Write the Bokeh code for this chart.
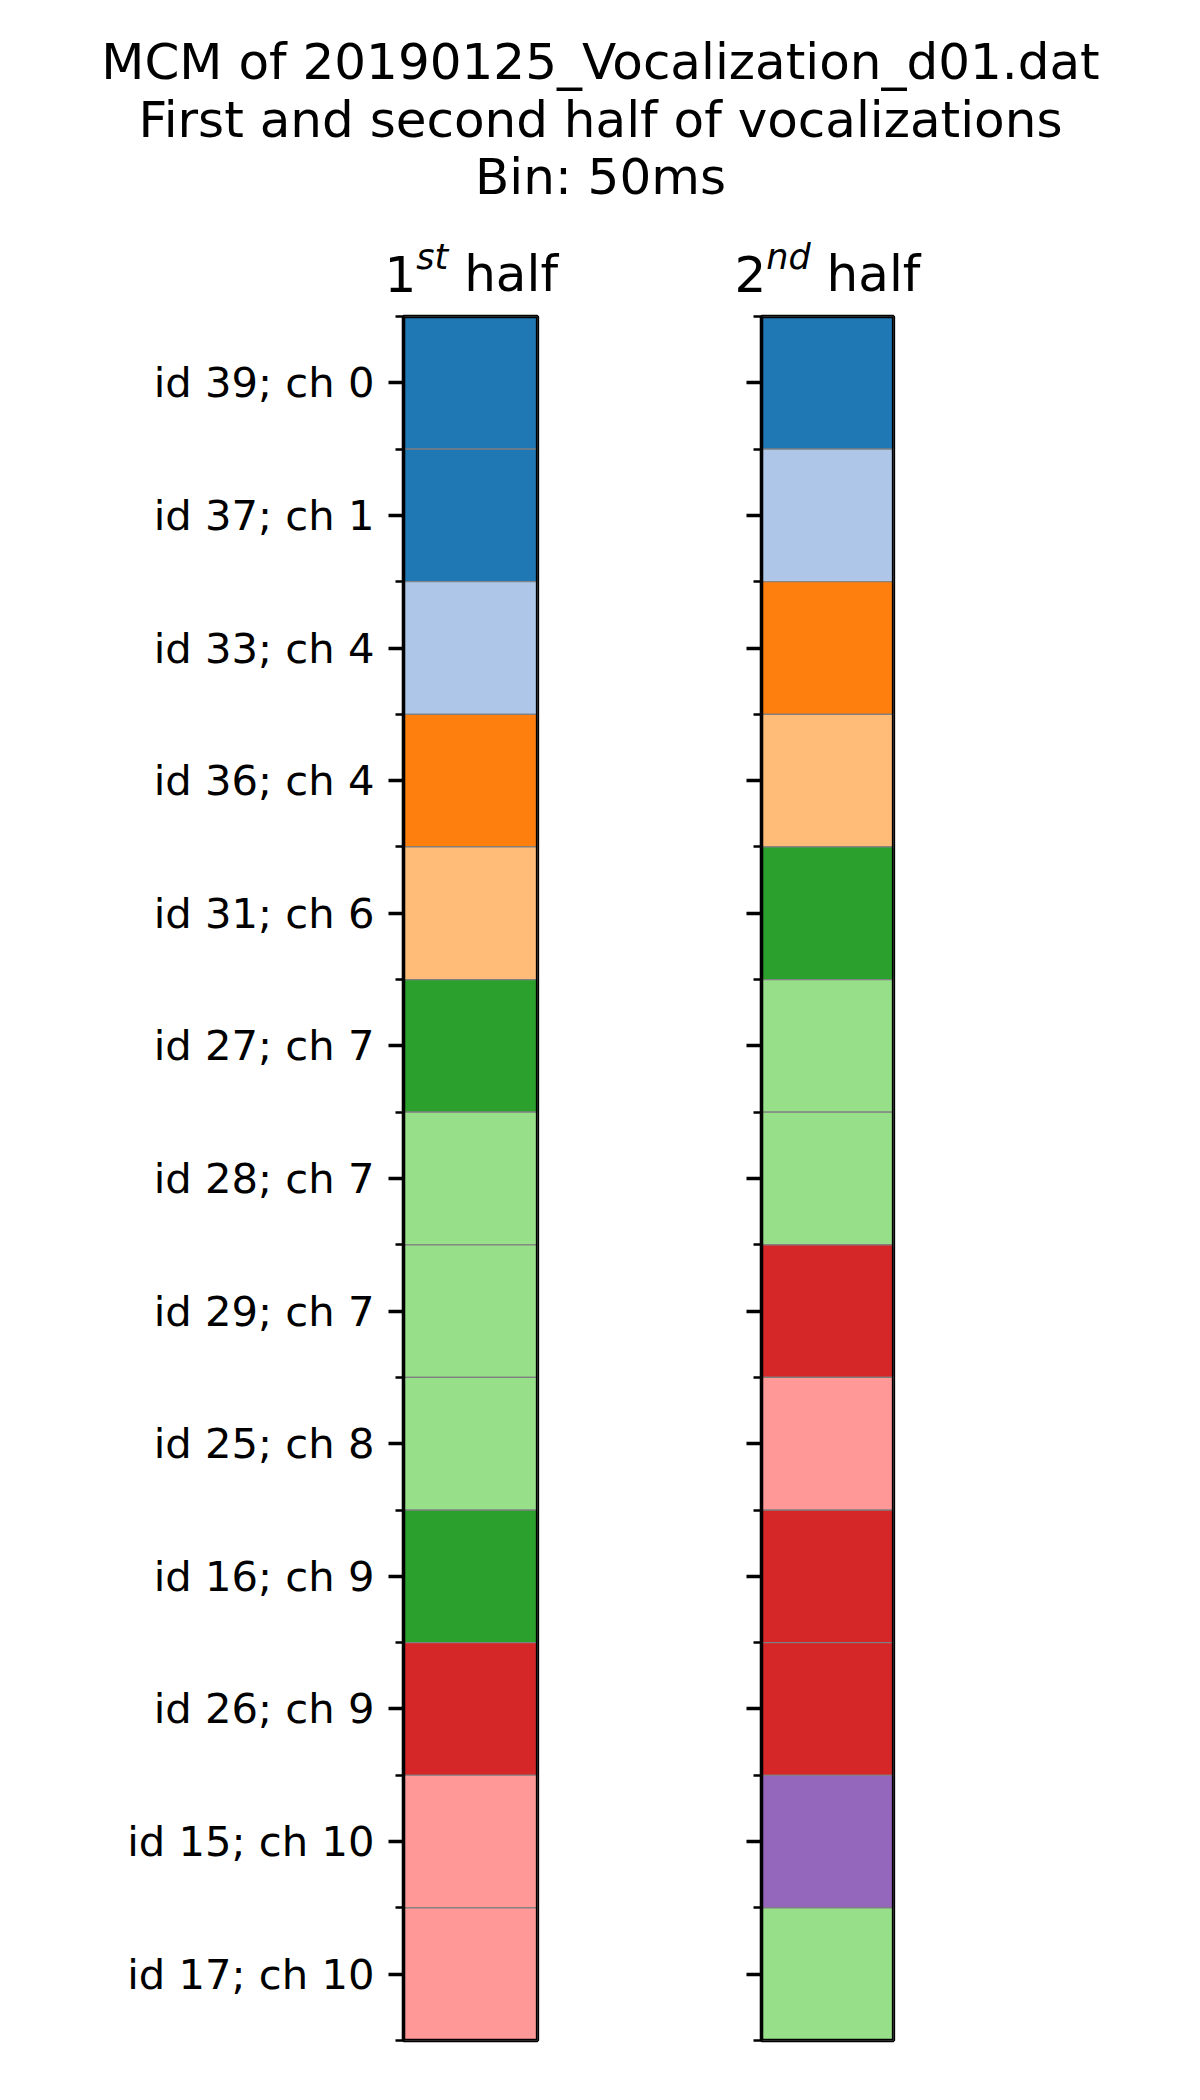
from bokeh.plotting import figure
from bokeh.layouts import column, row
from bokeh.models import Range1d, FixedTicker, Label, ColumnDataSource, BoxAnnotation
from bokeh.embed import file_html
from bokeh.resources import INLINE

# ---------------- data ----------------
unit_labels = ["id 39; ch 0", "id 37; ch 1", "id 33; ch 4", "id 36; ch 4",
               "id 31; ch 6", "id 27; ch 7", "id 28; ch 7", "id 29; ch 7",
               "id 25; ch 8", "id 16; ch 9", "id 26; ch 9", "id 15; ch 10",
               "id 17; ch 10"]
clusters_first = [0, 0, 1, 2, 3, 4, 5, 5, 5, 4, 6, 7, 7]
clusters_second = [0, 1, 2, 3, 4, 5, 5, 6, 7, 6, 6, 8, 5]
tab20 = ["#1f77b4", "#aec7e8", "#ff7f0e", "#ffbb78", "#2ca02c", "#98df8a",
         "#d62728", "#ff9896", "#9467bd", "#c5b0d5", "#8c564b", "#c49c94",
         "#e377c2", "#f7b6d2", "#7f7f7f", "#c7c7c7", "#bcbd22", "#dbdb8d",
         "#17becf", "#9edae5"]
title_lines = ["MCM of 20190125_Vocalization_d01.dat",
               "First and second half of vocalizations",
               "Bin: 50ms"]

FONT = "DejaVu Sans"
n = len(unit_labels)

# ---------------- header (titles) ----------------
HEAD_H = 311
head = figure(width=1184, height=HEAD_H, output_backend="svg", toolbar_location=None,
              x_axis_location=None, y_axis_location=None, min_border=0,
              x_range=Range1d(0, 1), y_range=Range1d(0, 1))
head.outline_line_color = None
head.grid.visible = False

OFF = 19  # empirical baseline correction

def sy(base):
    return HEAD_H + OFF - base

for txt, base in zip(title_lines, [80, 138, 195]):
    head.add_layout(Label(x=600, y=sy(base), x_units="screen", y_units="screen",
                          text=txt, text_align="center", text_baseline="alphabetic",
                          text_font=FONT, text_font_size="50px", text_color="black"))

def sub_title(x0, num, sup):
    base = 292
    head.add_layout(Label(x=x0, y=sy(base), x_units="screen", y_units="screen",
                          text=num, text_align="left", text_baseline="alphabetic",
                          text_font=FONT, text_font_size="50px", text_color="black"))
    w_sup = {"st": (0.521 + 0.392), "nd": (0.634 + 0.635)}[sup] * 35
    head.add_layout(Label(x=x0 + 31.8, y=sy(base - 17), x_units="screen", y_units="screen",
                          text=sup, text_align="left", text_baseline="alphabetic",
                          text_font=FONT, text_font_size="35px", text_font_style="italic",
                          text_color="black"))
    head.add_layout(Label(x=x0 + 31.8 + w_sup + 15.9, y=sy(base), x_units="screen", y_units="screen",
                          text="half", text_align="left", text_baseline="alphabetic",
                          text_font=FONT, text_font_size="50px", text_color="black"))

sub_title(384, "1", "st")
sub_title(734, "2", "nd")

# ---------------- panels ----------------
def panel(clusters, width, left, right, show_labels):
    p = figure(width=width, height=1750, output_backend="svg", toolbar_location=None,
               x_axis_location=None, x_range=Range1d(-0.5, 0.5),
               y_range=Range1d(n - 0.5, -0.5),
               min_border_left=left, min_border_right=right,
               min_border_top=5, min_border_bottom=21)
    p.grid.visible = False
    p.background_fill_color = "white"
    p.border_fill_color = "white"
    p.outline_line_color = "black"
    p.outline_line_width = 3.3
    src = ColumnDataSource(dict(x=[0] * n, y=list(range(n)),
                                color=[tab20[c] for c in clusters]))
    p.rect(x="x", y="y", width=1, height=1, fill_color="color", line_color="#808080",
           line_width=1.2, source=src)
    p.add_layout(BoxAnnotation(fill_alpha=0, fill_color=None, line_color="black",
                               line_width=3.3, line_alpha=1, level="overlay"))
    ax = p.yaxis[0]
    ax.ticker = FixedTicker(ticks=list(range(n)), minor_ticks=[i - 0.5 for i in range(n + 1)])
    if show_labels:
        ax.major_label_overrides = {i: lab for i, lab in enumerate(unit_labels)}
    else:
        ax.major_label_overrides = {i: "" for i in range(n)}
    ax.major_label_text_font = FONT
    ax.major_label_text_font_size = "41.7px"
    ax.major_label_text_color = "black"
    ax.major_label_standoff = 14
    ax.major_tick_in = 0
    ax.major_tick_out = 15
    ax.minor_tick_in = 0
    ax.minor_tick_out = 8
    ax.major_tick_line_width = 3.3
    ax.minor_tick_line_width = 2.5
    ax.major_tick_line_color = "black"
    ax.minor_tick_line_color = "black"
    ax.axis_line_width = 3.3
    ax.axis_line_color = "black"
    return p

p1 = panel(clusters_first, 403 + 134 + 100, 403, 100, True)
p2 = panel(clusters_second, 124 + 132 + 100, 124, 100, False)

layout = column(head, row(p1, p2))

open("out.html", "w").write(file_html(layout, INLINE))
